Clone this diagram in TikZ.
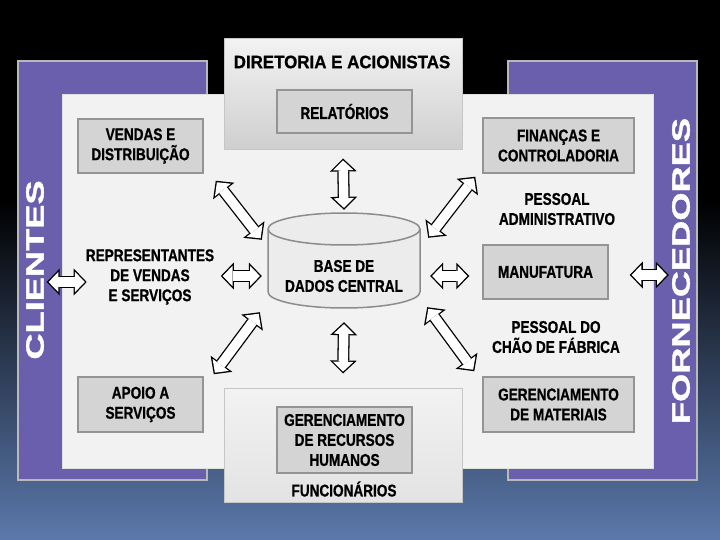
\documentclass[tikz,border=0pt]{standalone}
\usepackage{fontspec}
\usetikzlibrary{arrows.meta,calc}
\newfontfamily\boxfont[FakeStretch=0.8,FakeBold=0.8]{Liberation Sans Bold}
\newfontfamily\headfont[FakeStretch=0.94,FakeBold=0.8]{Liberation Sans Bold}
\newfontfamily\sidefont[FakeStretch=1.45,FakeBold=1.5]{Liberation Sans Bold}
\definecolor{panelpurple}{RGB}{106,95,172}
\definecolor{panelgray}{RGB}{242,242,242}
\definecolor{boxgray}{RGB}{212,212,212}
\definecolor{boxline}{RGB}{148,148,148}
\definecolor{dbgray}{RGB}{140,140,140}
\definecolor{dbfill}{RGB}{236,236,236}
\definecolor{bgblue}{RGB}{91,121,171}
\definecolor{bgnavy}{RGB}{26,36,58}

\begin{document}
\begin{tikzpicture}[x=1pt, y=1pt,
  lbl/.style={font=\boxfont\fontsize{17}{20}\selectfont, align=center, inner sep=0pt},
  unit/.style={lbl, draw=boxline, line width=1.5pt, fill=boxgray},
  frame/.style={draw=gray!45, line width=1pt, top color=gray!10, bottom color=gray!30, inner sep=0pt},
  side/.style={font=\sidefont\fontsize{25}{25}\selectfont, text=white, rotate=90, inner sep=0pt},
  dbline/.style={draw=dbgray, line width=1.5pt, fill=dbfill},
  dblarrow/.style={draw=black, line width=12pt,
    {Triangle[length=13pt,width=27pt,line width=0pt]}-{Triangle[length=13pt,width=27pt,line width=0pt]},
    postaction={draw=white, line width=9.4pt, shorten <=1.9pt, shorten >=1.9pt,
      {Triangle[length=9.8pt,width=20.3pt,line width=0pt]}-{Triangle[length=9.8pt,width=20.3pt,line width=0pt]}}}]
\path[use as bounding box] (0,0) rectangle (720,-540);
\fill[black] (0,0) rectangle (720,-200);
\shade[top color=black, middle color=bgnavy, bottom color=bgblue] (0,-200) rectangle (720,-540);
\filldraw[fill=panelpurple, draw=gray!55, line width=1.2pt] (18,-61) rectangle (207,-480);
\filldraw[fill=panelpurple, draw=gray!55, line width=1.2pt] (508,-61) rectangle (697,-480);
\filldraw[fill=panelgray, draw=gray!25, line width=1pt] (62,-95) rectangle (653,-468);
\node[side] (clients) at (35,-270) {CLIENTES};
\node[side] (suppliers) at (681,-271) {FORNECEDORES};
\node[frame, minimum width=238pt, minimum height=111pt, bottom color=gray!38] (board) at (343,-94.5) {};
\node[lbl, font=\headfont\fontsize{18}{20}\selectfont] (boardtitle) at (342,-62) {DIRETORIA E ACIONISTAS};
\node[unit, minimum width=135pt, minimum height=43pt] (reports) at (344.5,-111.5) {RELATÓRIOS};
\node[frame, minimum width=238pt, minimum height=114pt, bottom color=gray!22] (staff) at (343,-445) {};
\node[unit, minimum width=135pt, minimum height=66pt] (hr) at (344.5,-440) {GERENCIAMENTO\\DE RECURSOS\\HUMANOS};
\node[lbl] (stafftitle) at (344,-489) {FUNCIONÁRIOS};
\node[unit, minimum width=125pt, minimum height=54pt] (sales) at (140.5,-146) {VENDAS E\\DISTRIBUIÇÃO};
\node[unit, minimum width=125pt, minimum height=55pt] (support) at (140.5,-404.5) {APOIO A\\SERVIÇOS};
\node[unit, minimum width=151pt, minimum height=55pt] (finance) at (558.5,-145.5) {FINANÇAS E\\CONTROLADORIA};
\node[unit, minimum width=125pt, minimum height=54pt] (mfg) at (545.5,-272) {MANUFATURA};
\node[unit, minimum width=151pt, minimum height=55pt] (materials) at (558.5,-404.5) {GERENCIAMENTO\\DE MATERIAIS};
\node[lbl] (admin) at (557,-209) {PESSOAL\\ADMINISTRATIVO};
\node[lbl] (floor) at (556,-337) {PESSOAL DO\\CHÃO DE FÁBRICA};
\node[lbl] (reps) at (150,-277) {REPRESENTANTES\\DE VENDAS\\E SERVIÇOS};
\filldraw[dbline] (268,-229) -- (268,-292) arc[start angle=180, end angle=360, x radius=76, y radius=16] -- (420,-229) arc[start angle=0, end angle=180, x radius=76, y radius=16] -- cycle;
\draw[dbline, fill=none] (268,-229) arc[start angle=180, end angle=360, x radius=76, y radius=16];
\node[lbl, minimum width=152pt, minimum height=64pt] (db) at (344,-276) {BASE DE\\DADOS CENTRAL};
\draw[dblarrow] ([yshift=-8pt]board.south) -- ([yshift=34pt]db.north);
\draw[dblarrow] ([yshift=-14pt]db.south) -- ([yshift=14pt]staff.north);
\draw[dblarrow] ($(sales.south east)+(12,-7)$) -- ($(db.north west)+(-6,4)$);
\draw[dblarrow] ($(finance.south west)+(-7,-3)$) -- ($(db.north east)+(8,6)$);
\draw[dblarrow] ($(support.north east)+(10,2)$) -- ($(db.south west)+(-8,-4)$);
\draw[dblarrow] ($(db.south east)+(7,1)$) -- ($(materials.north west)+(-8,5)$);
\draw[dblarrow] ($(db.west)+(-47,0)$) -- ($(db.west)+(-6,0)$);
\draw[dblarrow] ($(db.east)+(10,0)$) -- ($(db.east -| mfg.west)+(-13,0)$);
\draw[dblarrow] ($(reps.west)+(-39,-5)$) -- ($(reps.west)+(1,-5)$);
\draw[dblarrow] ($(mfg.east)+(21,-3)$) -- ($(mfg.east)+(60,-3)$);
\end{tikzpicture}
\end{document}
